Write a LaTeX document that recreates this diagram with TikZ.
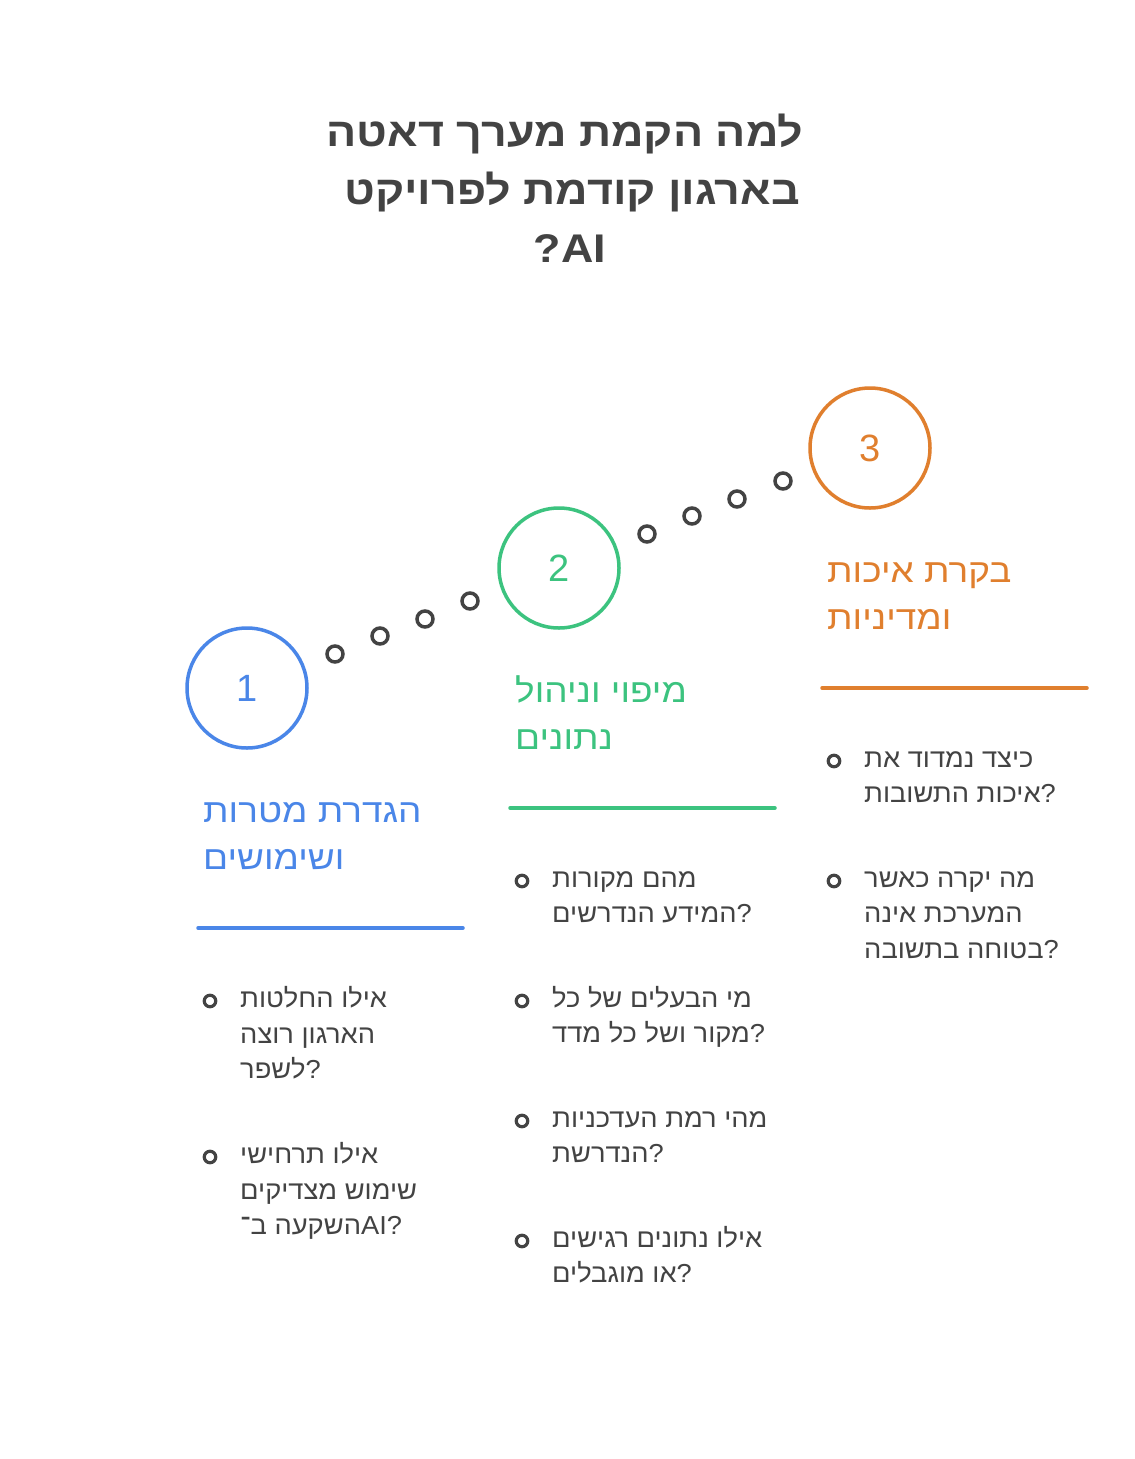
\documentclass[tikz,border=0pt]{standalone}
\usepackage{fontspec}
\setmainfont{Liberation Sans}
\newfontfamily\hebtitle[Script=Hebrew, FakeStretch=1.12]{Liberation Sans}
\newfontfamily\hebhead[Script=Hebrew, FakeStretch=1.12]{Liberation Sans}
\newfontfamily\hebbody[Script=Hebrew, FakeStretch=1.05]{Liberation Sans}
\TeXXeTstate=1
\definecolor{cblue}{HTML}{4A86E8}
\definecolor{cgreen}{HTML}{3CC37F}
\definecolor{corange}{HTML}{E07F2E}
\definecolor{ctext}{HTML}{434343}
\tikzset{
  titletxt/.style={font=\hebtitle\bfseries\fontsize{40}{48}\selectfont, text=ctext, inner sep=0pt, anchor=base},
  headtxt/.style={font=\hebhead\fontsize{33}{40}\selectfont, inner sep=0pt, anchor=base west},
  bodytxt/.style={font=\hebbody\fontsize{26}{32}\selectfont, text=ctext, inner sep=0pt, anchor=base west},
  stepcircle/.style={circle, draw, line width=3.5pt, minimum size=120pt, inner sep=0pt, font=\fontsize{38}{44}\selectfont},
  pathdot/.style={circle, draw=ctext, line width=3.5pt, minimum size=16pt, inner sep=0pt},
  bulletdot/.style={circle, draw=ctext, line width=3.2pt, minimum size=11.5pt, inner sep=0pt},
  rulestroke/.style={line width=3.5pt, line cap=round}
}
\begin{document}
\begin{tikzpicture}[x=1pt,y=-1pt]
\useasboundingbox[fill=white] (0,0) rectangle (1135,1459);
% title
\node[titletxt] (t1) at (565,146) {\beginR למה הקמת מערך דאטה\endR};
\node[titletxt] (t2) at (572,204) {\beginR בארגון קודמת לפרויקט\endR};
\node[titletxt] (t3) at (570,262) {?AI};
% circles
\node[stepcircle, draw=cblue, text=cblue] (c1) at (247,688) {1};
\node[stepcircle, draw=cgreen, text=cgreen] (c2) at (559,568) {2};
\node[stepcircle, draw=corange, text=corange] (c3) at (870,448) {3};
% dots
\node[pathdot] (d1) at (335,654) {};
\node[pathdot] (d2) at (380,636) {};
\node[pathdot] (d3) at (425,619) {};
\node[pathdot] (d4) at (470,601) {};
\node[pathdot] (d5) at (647,534) {};
\node[pathdot] (d6) at (692,516) {};
\node[pathdot] (d7) at (737,499) {};
\node[pathdot] (d8) at (783,481) {};
% headings
\node[headtxt, text=cblue] (h1a) at (203,822) {\beginR הגדרת מטרות\endR};
\node[headtxt, text=cblue] (h1b) at (203,869) {\beginR ושימושים\endR};
\node[headtxt, text=cgreen] (h2a) at (515,702) {\beginR מיפוי וניהול\endR};
\node[headtxt, text=cgreen] (h2b) at (515,749) {\beginR נתונים\endR};
\node[headtxt, text=corange] (h3a) at (827,582) {\beginR בקרת איכות\endR};
\node[headtxt, text=corange] (h3b) at (827,629) {\beginR ומדיניות\endR};
% rules
\draw[rulestroke, cblue] (198,928) -- (463,928);
\draw[rulestroke, cgreen] (510,808) -- (775,808);
\draw[rulestroke, corange] (822,688) -- (1087,688);
% column 1 bullets
\node[bulletdot] (b11) at (210,1001) {};
\node[bodytxt] (b11a) at (240,1007) {\beginR אילו החלטות\endR};
\node[bodytxt] (b11b) at (240,1043) {\beginR הארגון רוצה\endR};
\node[bodytxt] (b11c) at (240,1078) {\beginR לשפר\endR?};
\node[bulletdot] (b12) at (210,1157) {};
\node[bodytxt] (b12a) at (240,1163) {\beginR אילו תרחישי\endR};
\node[bodytxt] (b12b) at (240,1199) {\beginR שימוש מצדיקים\endR};
\node[bodytxt] (b12c) at (240,1234) {\beginR השקעה ב־\endR AI?};
% column 2 bullets
\node[bulletdot] (b21) at (522,881) {};
\node[bodytxt] (b21a) at (552,887) {\beginR מהם מקורות\endR};
\node[bodytxt] (b21b) at (552,922) {\beginR המידע הנדרשים\endR?};
\node[bulletdot] (b22) at (522,1001) {};
\node[bodytxt] (b22a) at (552,1007) {\beginR מי הבעלים של כל\endR};
\node[bodytxt] (b22b) at (552,1042) {\beginR מקור ושל כל מדד\endR?};
\node[bulletdot] (b23) at (522,1121) {};
\node[bodytxt] (b23a) at (552,1127) {\beginR מהי רמת העדכניות\endR};
\node[bodytxt] (b23b) at (552,1162) {\beginR הנדרשת\endR?};
\node[bulletdot] (b24) at (522,1241) {};
\node[bodytxt] (b24a) at (552,1247) {\beginR אילו נתונים רגישים\endR};
\node[bodytxt] (b24b) at (552,1282) {\beginR או מוגבלים\endR?};
% column 3 bullets
\node[bulletdot] (b31) at (834,761) {};
\node[bodytxt] (b31a) at (864,767) {\beginR כיצד נמדוד את\endR};
\node[bodytxt] (b31b) at (864,802) {\beginR איכות התשובות\endR?};
\node[bulletdot] (b32) at (834,881) {};
\node[bodytxt] (b32a) at (864,887) {\beginR מה יקרה כאשר\endR};
\node[bodytxt] (b32b) at (864,922) {\beginR המערכת אינה\endR};
\node[bodytxt] (b32c) at (864,958) {\beginR בטוחה בתשובה\endR?};
\end{tikzpicture}
\end{document}
